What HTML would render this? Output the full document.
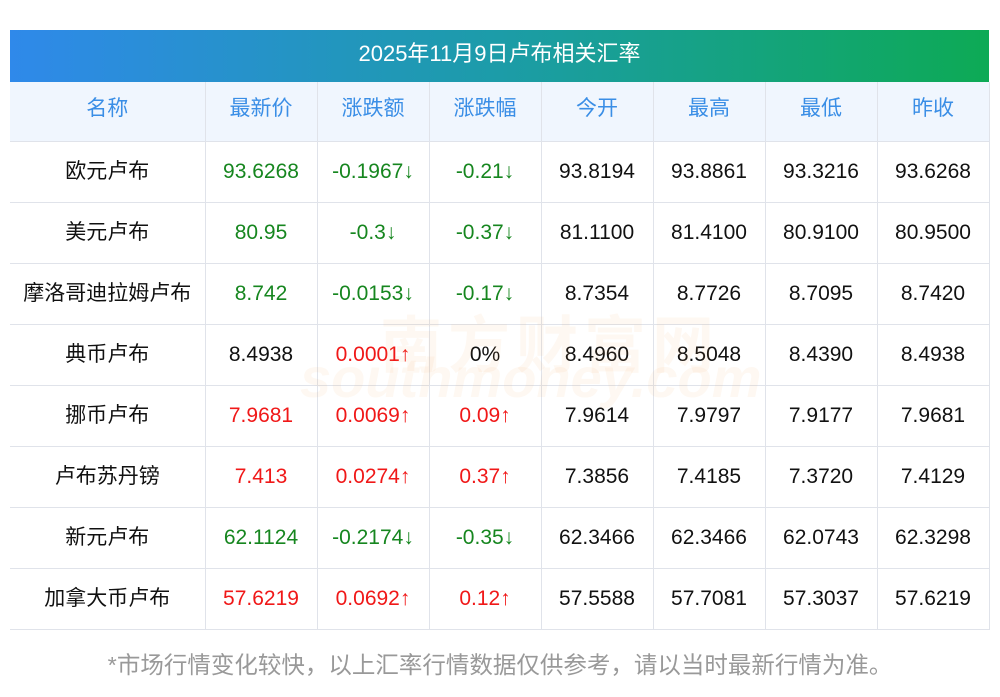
<!DOCTYPE html><html><head><meta charset="utf-8"><style>
body{margin:0;width:1000px;height:697px;background:#fff;position:relative;font-family:"Liberation Sans","Noto Sans CJK SC",sans-serif;overflow:hidden}
.bar{position:absolute;left:10px;top:30px;width:979px;height:52px;background:linear-gradient(90deg,#2f89ea,#1c9ca8 50%,#0daa55);color:#fff;font-size:22px;text-align:center;line-height:48px}
table{position:absolute;left:10px;top:82px;border-collapse:collapse;width:979px;table-layout:fixed}
td{height:60px;border-bottom:1px solid #e0e3ea;border-left:1px solid #e0e3ea;text-align:center;font-size:21px;color:#111;padding:0;line-height:24px}
td:first-child{border-left:none}
td:last-child{border-right:1px solid #e0e3ea}
tr.h td{background:#f0f6fe;color:#3a8ee6;height:59px}
td.c span{position:relative;top:0px}
tr.h td span{position:relative;top:-3px}
.g{color:#16861f}.r{color:#f01818}
.wm{position:absolute;color:rgba(245,170,90,.08);font-weight:bold}
.foot{position:absolute;top:646px;left:0;width:1000px;text-align:center;font-size:23.5px;color:#999}
</style></head><body>
<div class="bar">2025年11月9日卢布相关汇率</div>
<table>
<colgroup><col style="width:195px"><col style="width:112px"><col style="width:112px"><col style="width:112px"><col style="width:112px"><col style="width:112px"><col style="width:112px"><col style="width:112px"></colgroup>
<tr class="h"><td><span>名称</span></td><td><span>最新价</span></td><td><span>涨跌额</span></td><td><span>涨跌幅</span></td><td><span>今开</span></td><td><span>最高</span></td><td><span>最低</span></td><td><span>昨收</span></td></tr>
<tr><td class="c"><span>欧元卢布</span></td><td class="g">93.6268</td><td class="g">-0.1967↓</td><td class="g">-0.21↓</td><td>93.8194</td><td>93.8861</td><td>93.3216</td><td>93.6268</td></tr>
<tr><td class="c"><span>美元卢布</span></td><td class="g">80.95</td><td class="g">-0.3↓</td><td class="g">-0.37↓</td><td>81.1100</td><td>81.4100</td><td>80.9100</td><td>80.9500</td></tr>
<tr><td class="c"><span>摩洛哥迪拉姆卢布</span></td><td class="g">8.742</td><td class="g">-0.0153↓</td><td class="g">-0.17↓</td><td>8.7354</td><td>8.7726</td><td>8.7095</td><td>8.7420</td></tr>
<tr><td class="c"><span>典币卢布</span></td><td>8.4938</td><td class="r">0.0001↑</td><td>0%</td><td>8.4960</td><td>8.5048</td><td>8.4390</td><td>8.4938</td></tr>
<tr><td class="c"><span>挪币卢布</span></td><td class="r">7.9681</td><td class="r">0.0069↑</td><td class="r">0.09↑</td><td>7.9614</td><td>7.9797</td><td>7.9177</td><td>7.9681</td></tr>
<tr><td class="c"><span>卢布苏丹镑</span></td><td class="r">7.413</td><td class="r">0.0274↑</td><td class="r">0.37↑</td><td>7.3856</td><td>7.4185</td><td>7.3720</td><td>7.4129</td></tr>
<tr><td class="c"><span>新元卢布</span></td><td class="g">62.1124</td><td class="g">-0.2174↓</td><td class="g">-0.35↓</td><td>62.3466</td><td>62.3466</td><td>62.0743</td><td>62.3298</td></tr>
<tr><td class="c"><span>加拿大币卢布</span></td><td class="r">57.6219</td><td class="r">0.0692↑</td><td class="r">0.12↑</td><td>57.5588</td><td>57.7081</td><td>57.3037</td><td>57.6219</td></tr>
</table>
<div class="wm" style="left:380px;top:295px;font-size:62px;letter-spacing:6px">南方财富网</div>
<div class="wm" style="left:300px;top:345px;font-size:56px;font-style:italic">southmoney.com</div>
<div class="foot">*市场行情变化较快，以上汇率行情数据仅供参考，请以当时最新行情为准。</div>
</body></html>
